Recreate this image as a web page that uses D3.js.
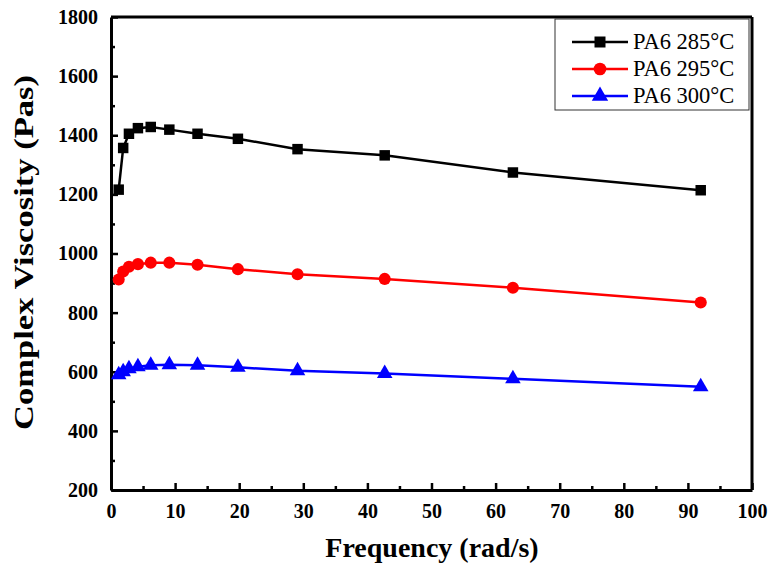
<!DOCTYPE html>
<html>
<head>
<meta charset="utf-8">
<script src="https://cdn.jsdelivr.net/npm/d3@7"></script>
<style>
  body { margin: 0; background: #fff; }
  svg { display: block; }
</style>
</head>
<body>
<svg id="chart"></svg>
<script>
// frequencies (rad/s) and complex viscosity (Pa s)
const freq = [1.2, 1.9, 2.8, 4.2, 6.2, 9.1, 13.5, 19.8, 29.1, 42.7, 62.7, 92]
const visc285 = [1216, 1357, 1405, 1424, 1428, 1419, 1405, 1388, 1353, 1332, 1274, 1214]
const visc295 = [912, 939, 955, 964, 969, 969, 962, 947, 930, 914, 884, 834]
const visc300 = [590, 600, 610, 617, 622, 624, 622, 615, 603, 594, 576, 549]
const seriesNames = ['PA6 285°C', 'PA6 295°C', 'PA6 300°C']
const xTicks = [0, 10, 20, 30, 40, 50, 60, 70, 80, 90, 100]
const yTicks = [200, 400, 600, 800, 1000, 1200, 1400, 1600, 1800]

const W = 769, H = 563
const margin = {top: 17, right: 17, bottom: 73, left: 111}
const series = [
    {name: seriesNames[0], values: visc285, color: '#000000', shape: d3.symbolSquare, size: 110},
    {name: seriesNames[1], values: visc295, color: '#ff0000', shape: d3.symbolCircle, size: 115},
    {name: seriesNames[2], values: visc300, color: '#0000ff', shape: d3.symbolTriangle, size: 105}
]

const svg = d3.select('#chart').attr('width', W).attr('height', H)
const font = '"Liberation Serif", "Times New Roman", serif'

const x = d3.scaleLinear().domain([0, 100]).range([margin.left, W - margin.right])
const y = d3.scaleLinear().domain([200, 1800]).range([H - margin.bottom, margin.top])

// frame (top/right)
svg.append('line')
    .attr('x1', x(0)).attr('x2', x(100)).attr('y1', y(1800)).attr('y2', y(1800))
    .attr('stroke', '#000').attr('stroke-width', 3)
svg.append('line')
    .attr('x1', x(100)).attr('x2', x(100)).attr('y1', y(1800)).attr('y2', y(200))
    .attr('stroke', '#000').attr('stroke-width', 3)

// x axis
const xAxis = svg.append('g')
    .attr('transform', `translate(0, ${y(200)})`)
    .attr('font-family', font)
    .call(d3.axisBottom(x).tickValues(xTicks).tickFormat(d3.format('d')).tickSizeInner(-7).tickSizeOuter(0).tickPadding(14))
xAxis.append('g')
    .call(d3.axisBottom(x).tickValues(d3.range(5, 100, 10)).tickSizeInner(-4).tickSizeOuter(0).tickFormat(''))
    .select('.domain').remove()

// y axis
const yAxis = svg.append('g')
    .attr('transform', `translate(${x(0)}, 0)`)
    .call(d3.axisLeft(y).tickValues(yTicks).tickFormat(d3.format('d')).tickSizeInner(-7).tickSizeOuter(0).tickPadding(13))
yAxis.append('g')
    .call(d3.axisLeft(y).tickValues(d3.range(300, 1800, 200)).tickSizeInner(-4).tickSizeOuter(0).tickFormat(''))
    .select('.domain').remove()

svg.selectAll('.domain').attr('stroke', '#000').attr('stroke-width', 3)
svg.selectAll('.tick line').attr('stroke', '#000').attr('stroke-width', 2.5)
xAxis.attr('font-family', font)
yAxis.attr('font-family', font)
svg.selectAll('.tick text')
    .attr('font-family', font).attr('font-size', 20).attr('font-weight', 'bold').attr('fill', '#000')

// axis titles
svg.append('text')
    .attr('x', 432).attr('y', 557)
    .attr('text-anchor', 'middle')
    .attr('font-family', font).attr('font-size', 28).attr('font-weight', 'bold')
    .text('Frequency (rad/s)')

svg.append('text')
    .attr('transform', `translate(33, ${(y(200) + y(1800)) / 2 - 1}) rotate(-90)`)
    .attr('text-anchor', 'middle')
    .attr('font-family', font).attr('font-size', 27).attr('font-weight', 'bold')
    .attr('textLength', 355).attr('lengthAdjust', 'spacingAndGlyphs')
    .text('Complex Viscosity (Pas)')

// lines and markers
const line = d3.line().x((d, i) => x(freq[i])).y(d => y(d))
series.forEach(s => {
    svg.append('path')
        .attr('d', line(s.values))
        .attr('fill', 'none').attr('stroke', s.color).attr('stroke-width', 2.5)
    svg.append('g').selectAll('path')
        .data(s.values)
        .enter()
        .append('path')
        .attr('d', d3.symbol().type(s.shape).size(s.size))
        .attr('transform', (d, i) => `translate(${x(freq[i])}, ${y(d)})`)
        .attr('fill', s.color)
})

// legend
const lg = svg.append('g')
lg.append('rect')
    .attr('x', 555).attr('y', 19).attr('width', 194).attr('height', 91)
    .attr('fill', '#fff').attr('stroke', '#333').attr('stroke-width', 1)
series.forEach((s, i) => {
    const cy = 42 + i * 27
    lg.append('line')
        .attr('x1', 572).attr('x2', 628).attr('y1', cy).attr('y2', cy)
        .attr('stroke', s.color).attr('stroke-width', 2.5)
    lg.append('path')
        .attr('d', d3.symbol().type(s.shape).size(s.size * 1.1))
        .attr('transform', `translate(600, ${cy})`)
        .attr('fill', s.color)
    lg.append('text')
        .attr('x', 633).attr('y', cy + 7)
        .attr('font-family', font).attr('font-size', 22.5)
        .text(s.name)
})
</script>
</body>
</html>
